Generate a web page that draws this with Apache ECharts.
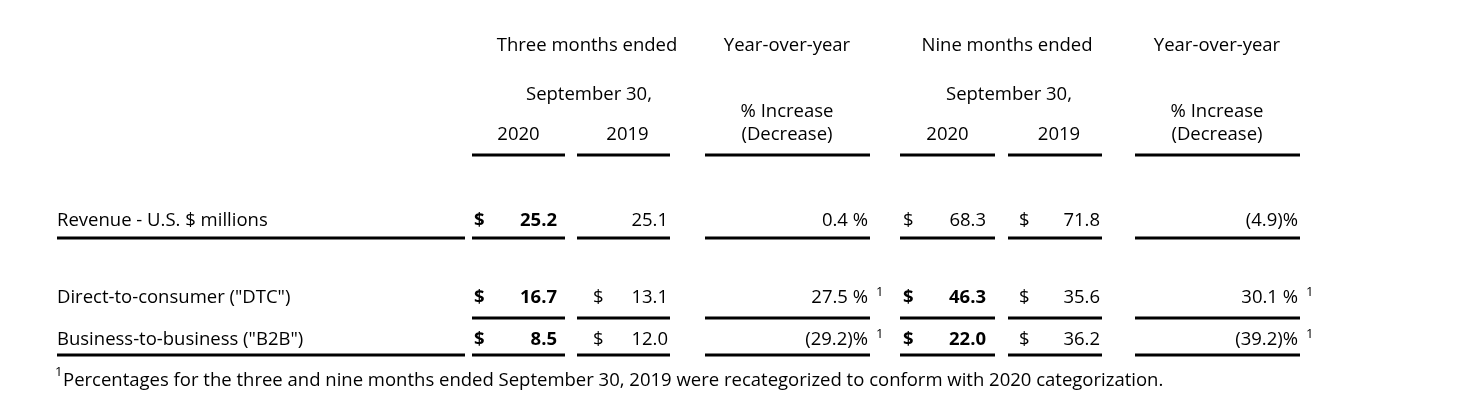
<!DOCTYPE html>
<html>
<head>
<meta charset="utf-8">
<script src="https://cdn.jsdelivr.net/npm/echarts@6/dist/echarts.min.js"></script>
<style>
  html, body { margin: 0; padding: 0; background: #fff; }
  #main { width: 1482px; height: 408px; }
</style>
</head>
<body>
<div id="main"></div>
<script>
// table data
const rowLabels = ['Revenue - U.S. $ millions', 'Direct-to-consumer ("DTC")', 'Business-to-business ("B2B")']
const q2020 = ['25.2', '16.7', '8.5']
const q2019 = ['25.1', '13.1', '12.0']
const qChange = ['0.4 %', '27.5 %', '(29.2)%']
const n2020 = ['68.3', '46.3', '22.0']
const n2019 = ['71.8', '35.6', '36.2']
const nChange = ['(4.9)%', '30.1 %', '(39.2)%']
const changeNote = [false, true, true]
const footnote = 'Percentages for the three and nine months ended September 30, 2019 were recategorized to conform with 2020 categorization.'

// layout
const font = '"Open Sans", "Noto Sans", sans-serif'
const fs = 18.5
const cols = [
  [472, 565], [577, 670], [705, 870], [900, 995], [1008, 1102], [1135, 1300]
]
const labelSpan = [57, 465]
const rowY = [221, 298, 340]
const lineY = [238, 318, 355]

const g = []
function txt (x, y, s, align, bold, size) {
  g.push({
    type: 'text', x: x, y: y,
    style: {
      text: s, fill: '#000', font: (bold ? 'bold ' : '') + (size || fs) + 'px ' + font,
      textAlign: align || 'left', textVerticalAlign: 'middle'
    }
  })
}
function hline (x1, x2, y, w) {
  g.push({ type: 'line', shape: { x1: x1, y1: y, x2: x2, y2: y }, style: { stroke: '#000', lineWidth: w || 3 } })
}
const mid = c => (cols[c][0] + cols[c][1]) / 2

// header
txt(587, 46, 'Three months ended', 'center')
txt(787, 46, 'Year-over-year', 'center')
txt(1007, 46, 'Nine months ended', 'center')
txt(1217, 46, 'Year-over-year', 'center')
txt(589, 95, 'September 30,', 'center')
txt(1009, 95, 'September 30,', 'center')
txt(787, 112, '% Increase', 'center')
txt(787, 135, '(Decrease)', 'center')
txt(1217, 112, '% Increase', 'center')
txt(1217, 135, '(Decrease)', 'center')
txt(mid(0), 135, '2020', 'center')
txt(mid(1) + 4, 135, '2019', 'center')
txt(mid(3), 135, '2020', 'center')
txt(mid(4) + 4, 135, '2019', 'center')
cols.forEach(c => hline(c[0], c[1], 155))

// body rows
rowLabels.forEach((label, i) => {
  const y = rowY[i]
  txt(labelSpan[0], y, label, 'left')
  txt(cols[0][0] + 2, y, '$', 'left', true)
  txt(cols[0][1] - 8, y, q2020[i], 'right', true)
  if (i > 0) txt(cols[1][0] + 16, y, '$', 'left')
  txt(cols[1][1] - 2, y, q2019[i], 'right')
  txt(cols[2][1] - 2, y, qChange[i], 'right')
  if (changeNote[i]) txt(cols[2][1] + 6, y - 6, '1', 'left', false, 13)
  txt(cols[3][0] + 3, y, '$', 'left', i > 0)
  txt(cols[3][1] - 9, y, n2020[i], 'right', i > 0)
  txt(cols[4][0] + 11, y, '$', 'left')
  txt(cols[4][1] - 2, y, n2019[i], 'right')
  txt(cols[5][1] - 2, y, nChange[i], 'right')
  if (changeNote[i]) txt(cols[5][1] + 6, y - 6, '1', 'left', false, 13)

  if (i !== 1) hline(labelSpan[0], labelSpan[1], lineY[i])
  cols.forEach(c => hline(c[0], c[1], lineY[i]))
})

// footnote
txt(55, 372, '1', 'left', false, 13)
txt(63, 381, footnote, 'left', false, 18.5)

const chart = echarts.init(document.getElementById('main'))
chart.setOption({ backgroundColor: '#fff', animation: false, graphic: { elements: g } })
</script>
</body>
</html>
